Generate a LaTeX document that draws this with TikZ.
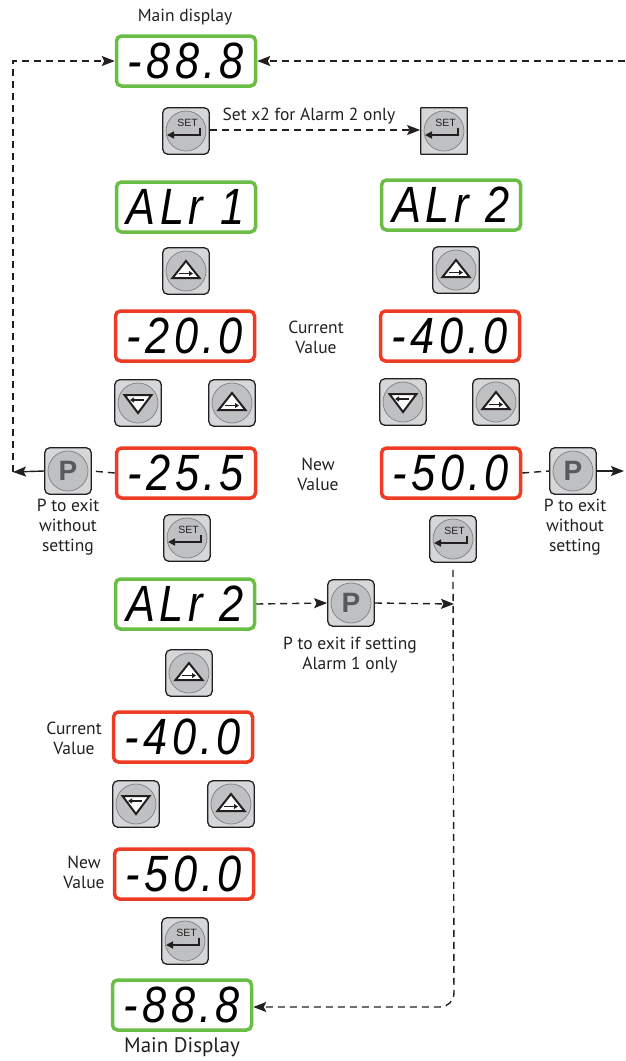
\documentclass[tikz,border=0pt]{standalone}
\usepackage{fontspec}
\setmainfont{PT Sans}
\newfontfamily\dispfont{Liberation Sans}[FakeStretch=0.85, LetterSpace=8.5]
\newfontfamily\keyfont{Liberation Sans}
\usetikzlibrary{arrows.meta}

\definecolor{dgreen}{HTML}{6ABD45}
\definecolor{dred}{HTML}{EE3B24}
\definecolor{keyfill}{HTML}{D6D7D9}
\definecolor{keycirc}{HTML}{BFC0C2}
\definecolor{keyring}{HTML}{86878A}
\definecolor{ptext}{HTML}{58595B}
\definecolor{txt}{HTML}{231F20}

\tikzset{
  disp/.style={draw, rounded corners=5pt, line width=3.5pt, minimum width=139pt,
    minimum height=50pt, inner sep=0pt, text=black,
    font=\dispfont\itshape\fontsize{51}{51}\selectfont},
  gdisp/.style={disp, draw=dgreen},
  rdisp/.style={disp, draw=dred},
  key/.style={draw=txt, line width=1.3pt, fill=keyfill, rounded corners=5pt,
    minimum size=46.5pt, inner sep=0pt},
  ring/.style={draw=keyring, fill=keycirc, line width=0.8pt},
  dashline/.style={txt, line width=1.4pt, dash pattern=on 7pt off 5pt},
  arr/.style={-{Stealth[length=13pt,width=10pt,inset=2.5pt]}},
  lbl/.style={font=\fontsize{17.5}{20}\selectfont, text=txt, align=center, inner sep=0pt},
}

% key symbols drawn over a named key node
\newcommand\setsym[1]{%
  \begin{scope}[shift={(#1.center)}]
    \draw[ring] (0,0) circle (20pt);
    \node[font=\keyfont\fontsize{10.5}{10.5}\selectfont, text=txt, inner sep=0pt] at (1.5,-8.5) {SET};
    \draw[txt, line width=1.5pt, -{Triangle[length=7pt,width=7pt]}] (14,-3.5) -- (14,4) -- (-19,4);
  \end{scope}}
\newcommand\upsym[1]{%
  \begin{scope}[shift={(#1.center)}]
    \draw[ring] (0,0) circle (20pt);
    \draw[txt, fill=white, line width=2pt, line join=miter] (0,-10) -- (13.5,7) -- (-13.5,7) -- cycle;
    \draw[txt, line width=1.5pt, -{Triangle[length=4pt,width=5pt]}] (-7,2.5) -- (7,2.5);
  \end{scope}}
\newcommand\downsym[1]{%
  \begin{scope}[shift={(#1.center)}]
    \draw[ring] (0,0) circle (20pt);
    \draw[txt, fill=white, line width=2pt, line join=miter] (0,10) -- (13.5,-8) -- (-13.5,-8) -- cycle;
    \draw[txt, line width=1.5pt, -{Triangle[length=4pt,width=5pt]}] (6,-3) -- (-8,-3);
  \end{scope}}
\newcommand\psym[1]{%
  \begin{scope}[shift={(#1.center)}]
    \draw[ring] (0,0) circle (20pt);
    \node[text=ptext, font=\keyfont\bfseries\fontsize{28}{28}\selectfont, inner sep=0pt] at (0,0) {P};
  \end{scope}}

\begin{document}
\begin{tikzpicture}[x=1pt,y=-1pt]
\useasboundingbox (0,0) rectangle (625,1061);

% displays
\node[gdisp] (mainT) at (186,61) {-88.8};
\node[gdisp] (alr1)  at (186,207) {ALr\hspace{18pt}1};
\node[gdisp] (alr2R) at (451,205) {ALr 2};
\node[rdisp] (v20)   at (185,336) {-20.0};
\node[rdisp] (v40R)  at (450,336) {-40.0};
\node[rdisp] (v255)  at (186,473) {-25.5};
\node[rdisp] (v50R)  at (451,473) {-50.0};
\node[gdisp] (alr2M) at (185,604) {ALr 2};
\node[rdisp] (v40B)  at (183,737) {-40.0};
\node[rdisp] (v50B)  at (184,874) {-50.0};
\node[gdisp] (mainB) at (182,1005) {-88.8};

% keys
\node[key] (setT)  at (186,131) {};
\node[key, rounded corners=0.5pt] (setR) at (444,131) {};
\node[key] (upL1)  at (186,271) {};
\node[key] (upR1)  at (456,270) {};
\node[key] (dnL)   at (138,403) {};
\node[key] (upL2)  at (232,403) {};
\node[key] (dnR)   at (403,402) {};
\node[key] (upR2)  at (496,402) {};
\node[key] (pL)    at (68,471) {};
\node[key] (pR)    at (573,471) {};
\node[key] (setL2) at (187,538) {};
\node[key] (setR2) at (453,539) {};
\node[key] (pM)    at (351,603) {};
\node[key] (upM)   at (189,673) {};
\node[key] (dnB)   at (136,804) {};
\node[key] (upB)   at (231,804) {};
\node[key] (setB)  at (185,941) {};

\foreach \k in {setT,setR,setL2,setR2,setB} {\setsym{\k}}
\foreach \k in {upL1,upR1,upL2,upR2,upM,upB} {\upsym{\k}}
\foreach \k in {dnL,dnR,dnB} {\downsym{\k}}
\foreach \k in {pL,pR,pM} {\psym{\k}}

% labels
\node[lbl] (tMain) at (185,17) {Main display};
\node[lbl] (tSet)  at (309,116) {Set x2 for Alarm 2 only};
\node[lbl] (tCur1) at (316,337) {Current\\Value};
\node[lbl] (tNew1) at (318,474) {New\\Value};
\node[lbl] (tPL)   at (68,527) {P to exit\\without\\setting};
\node[lbl] (tPR)   at (575,527) {P to exit\\without\\setting};
\node[lbl] (tPM)   at (350,655) {P to exit if setting\\Alarm 1 only};
\node[lbl] (tCur2) at (74,738) {Current\\Value};
\node[lbl] (tNew2) at (84,872) {New\\Value};
\node[lbl, font=\fontsize{21}{24}\selectfont] (tMainB) at (182,1047) {Main Display};

% helper coordinates
\coordinate (cL1) at (13,472);
\coordinate (cL2) at (13,61);
\coordinate (cR1) at (625,61);
\coordinate (cR2) at (624,471);
\coordinate (cV)  at (454,604);

% connectors
\draw[txt, line width=1.4pt, arr] (pL.west) -- (cL1);
\draw[dashline, arr] (cL1) -- (cL2) -- (mainT.west);
\draw[dashline, arr] (cR1) -- (mainT.east);
\draw[dashline, arr] (setT.east |- 0,130) -- (setR.west |- 0,130);
\draw[dashline] (v255.west) -- (pL.east);
\draw[dashline] (v50R.east) -- (pR.west);
\draw[txt, line width=1.4pt, arr] (pR.east) -- (cR2);
\draw[dashline, arr] (alr2M.east) -- (pM.west);
\draw[dashline, arr] (pM.east) -- (cV);
\draw[dashline, arr, rounded corners=14pt] ([yshift=-7pt]setR2.south) -- (454,1007) -- (mainB.east |- 0,1007);
\end{tikzpicture}
\end{document}
